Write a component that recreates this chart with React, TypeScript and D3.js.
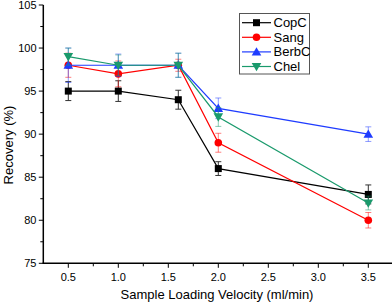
import React from 'react'
import * as d3 from 'd3'

const velocities = [0.5, 1.0, 1.6, 2.0, 3.5]

const seriesNames = ['CopC', 'Sang', 'BerbC', 'Chel']
const copcValues = [95, 95, 94, 86, 83]
const sangValues = [98, 97, 98, 89, 80]
const berbcValues = [98, 98, 98, 93, 90]
const chelValues = [99, 98, 98, 92, 82]

const copcErrors = [1.1, 1.2, 1.1, 0.8, 1.1]
const sangErrors = [1.4, 1.5, 0.7, 1.1, 0.9]
const berbcErrors = [2.0, 1.3, 1.4, 1.2, 0.85]
const chelErrors = [1.0, 1.2, 1.4, 1.1, 0.8]

const yTicks = [75, 80, 85, 90, 95, 100, 105]
const xTicks = [0.5, 1.0, 1.5, 2.0, 2.5, 3.0, 3.5]

const colors = ['#000000', '#ff0000', '#1f3cff', '#1a9a6c']
const markers = ['square', 'circle', 'triangle', 'triangleDown']

const font = 'Arial, "Liberation Sans", sans-serif'

export default function App() {
  const width = 392
  const height = 302

  const x = d3.scaleLinear().domain([0.25, 3.75]).range([43.3, 393.3])
  const y = d3.scaleLinear().domain([75, 105]).range([263.3, 5])

  const allValues = [copcValues, sangValues, berbcValues, chelValues]
  const allErrors = [copcErrors, sangErrors, berbcErrors, chelErrors]

  const line = d3.line<[number, number]>()
    .x(d => x(d[0]))
    .y(d => y(d[1]))

  const marker = (type: string, cx: number, cy: number, color: string, key: string) => {
    if (type === 'square') {
      return <rect key={key} x={cx - 3.5} y={cy - 3.5} width={7} height={7} fill={color} />
    }
    if (type === 'circle') {
      return <circle key={key} cx={cx} cy={cy} r={3.8} fill={color} />
    }
    if (type === 'triangle') {
      const p = d3.symbol(d3.symbolTriangle, 40)()
      return <path key={key} d={p || ''} transform={`translate(${cx},${cy + 0.8})`} fill={color} />
    }
    const p = d3.symbol(d3.symbolTriangle, 40)()
    return <path key={key} d={p || ''} transform={`translate(${cx},${cy - 0.8}) rotate(180)`} fill={color} />
  }

  const yMinor = d3.range(77.5, 105, 5)
  const xMinor = d3.range(0.75, 3.75, 0.5)

  return (
    <svg width={width} height={height} style={{ position: 'absolute', left: 0, top: 0, background: '#fff' }}>
      {/* axes */}
      <line x1={x(0.25)} x2={x(0.25)} y1={y(105)} y2={y(75)} stroke="#000" strokeWidth={1.5} />
      <line x1={x(0.25) - 0.75} x2={width} y1={y(75)} y2={y(75)} stroke="#000" strokeWidth={1.5} />
      {yTicks.map(t => (
        <g key={'yt' + t}>
          <line x1={x(0.25) - 4.5} x2={x(0.25)} y1={y(t)} y2={y(t)} stroke="#000" strokeWidth={1} />
          <text x={36.5} y={y(t) + 4} textAnchor="end" fontSize={11} fontFamily={font}>{t}</text>
        </g>
      ))}
      {yMinor.map(t => (
        <line key={'ym' + t} x1={x(0.25) - 3} x2={x(0.25)} y1={y(t)} y2={y(t)} stroke="#000" strokeWidth={1} />
      ))}
      {xTicks.map(t => (
        <g key={'xt' + t}>
          <line x1={x(t)} x2={x(t)} y1={y(75)} y2={y(75) + 4.5} stroke="#000" strokeWidth={1} />
          <text x={x(t)} y={281} textAnchor="middle" fontSize={11} fontFamily={font}>{t.toFixed(1)}</text>
        </g>
      ))}
      {xMinor.map(t => (
        <line key={'xm' + t} x1={x(t)} x2={x(t)} y1={y(75)} y2={y(75) + 3} stroke="#000" strokeWidth={1} />
      ))}
      <text x={217} y={299} textAnchor="middle" fontSize={13} fontFamily={font}>Sample Loading Velocity (ml/min)</text>
      <text transform={`translate(12.5,145) rotate(-90)`} textAnchor="middle" fontSize={13} fontFamily={font}>Recovery (%)</text>

      {/* series */}
      {allValues.map((vals, si) => {
        const color = colors[si]
        const errs = allErrors[si]
        const pts = velocities.map((v, i) => [v, vals[i]] as [number, number])
        const errColor = si === 0 ? '#333' : color
        const errOpacity = si === 0 ? 1 : 0.5
        return (
          <g key={seriesNames[si]}>
            <path d={line(pts) || ''} fill="none" stroke={color} strokeWidth={1.2} />
            {pts.map((p, i) => (
              <g key={'e' + i} stroke={errColor} strokeOpacity={errOpacity} strokeWidth={1}>
                <line x1={x(p[0])} x2={x(p[0])} y1={y(p[1] + errs[i])} y2={y(p[1] - errs[i])} />
                <line x1={x(p[0]) - 3} x2={x(p[0]) + 3} y1={y(p[1] + errs[i])} y2={y(p[1] + errs[i])} />
                <line x1={x(p[0]) - 3} x2={x(p[0]) + 3} y1={y(p[1] - errs[i])} y2={y(p[1] - errs[i])} />
              </g>
            ))}
            {pts.map((p, i) => marker(markers[si], x(p[0]), y(p[1]), color, 'm' + i))}
          </g>
        )
      })}

      {/* legend */}
      <rect x={239.5} y={13.5} width={70} height={60.5} fill="#fff" stroke="#555" strokeWidth={1} />
      {seriesNames.map((name, i) => {
        const ly = 22.7 + i * 14.6
        return (
          <g key={'lg' + name}>
            <line x1={242} x2={271} y1={ly} y2={ly} stroke={colors[i]} strokeWidth={1.2} />
            {marker(markers[i], 256.5, ly, colors[i], 'lm' + i)}
            <text x={273.5} y={ly + 4.5} fontSize={13} fontFamily={font}>{name}</text>
          </g>
        )
      })}
    </svg>
  )
}
